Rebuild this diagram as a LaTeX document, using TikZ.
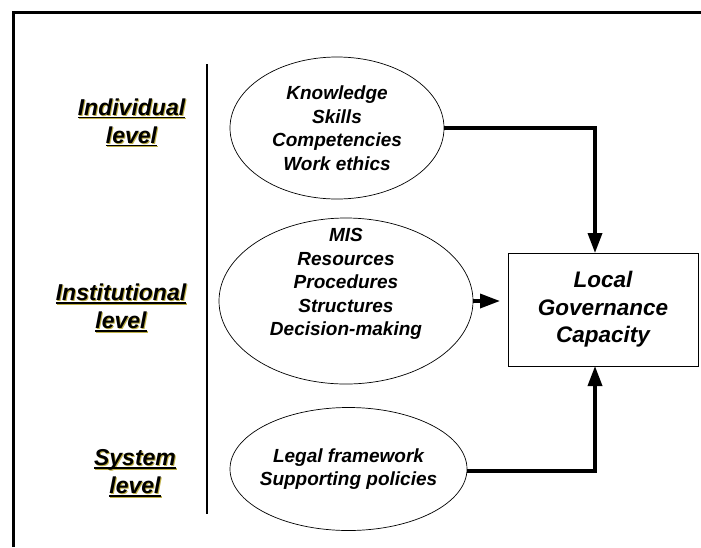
\documentclass[tikz,border=0pt]{standalone}
\usepackage{fontspec}
\setmainfont{Liberation Sans}
\usetikzlibrary{shapes.geometric,arrows.meta}
\definecolor{shadowgold}{RGB}{190,175,70}
% underline at a fixed distance below the baseline, crossing descenders
\newcommand\levelul[1]{\setbox0\hbox{#1}\rlap{\rule[-3.2pt]{\wd0}{1.6pt}}\box0}
\begin{document}
\begin{tikzpicture}[x=1pt,y=-1pt,
  every node/.style={inner sep=0pt,outer sep=0pt},
  factor/.style={draw,ellipse,line width=0.7pt},
  factortext/.style={align=center,font=\fontsize{19}{23.5}\selectfont\bfseries\itshape},
  levelshadow/.style={align=center,text=shadowgold,font=\fontsize{23}{28}\selectfont\bfseries\itshape},
  leveltext/.style={align=center,font=\fontsize{23}{28}\selectfont\bfseries\itshape},
  target/.style={draw,line width=0.7pt,align=center,font=\fontsize{22.5}{27.5}\selectfont\bfseries\itshape},
  flow/.style={line width=3.5pt,-{Triangle[length=20pt,width=14pt]}}]
  \useasboundingbox (0,0) rectangle (701,547);

  % open frame: left and top sides
  \draw[line width=3pt] (13.3,547) -- (13.3,12.5) -- (701,12.5);

  % divider between level names and factors
  \draw[line width=1.2pt] (207,64) -- (207,514);

  % level names with a soft offset shadow
  \node[levelshadow] (indS) at (132.5,123.5) {\levelul{Individual}\\\levelul{level}};
  \node[leveltext] (ind) at (131.5,122.5) {\levelul{Individual}\\\levelul{level}};
  \node[levelshadow] (instS) at (122,309) {\levelul{Institutional}\\\levelul{level}};
  \node[leveltext] (inst) at (121,308) {\levelul{Institutional}\\\levelul{level}};
  \node[levelshadow] (sysS) at (136,474) {\levelul{System}\\\levelul{level}};
  \node[leveltext] (sys) at (135,473) {\levelul{System}\\\levelul{level}};

  % capacity factors
  \node[factor,minimum width=214pt,minimum height=142pt] (fInd) at (337,128) {};
  \node[factortext] (fIndT) at (337,128) {Knowledge\\Skills\\Competencies\\Work ethics};

  \node[factor,minimum width=254pt,minimum height=166pt] (fInst) at (346,301) {};
  \node[factortext] (fInstT) at (346,284) {MIS\\Resources\\Procedures\\Structures\\Decision-making};

  \node[factor,minimum width=237pt,minimum height=123pt] (fSys) at (348.5,469) {};
  \node[factortext] (fSysT) at (348.5,469) {Legal framework\\Supporting policies};

  % outcome
  \node[target,minimum width=190pt,minimum height=113pt] (cap) at (603,309.5) {Local\\Governance\\Capacity};

  % connectors
  \coordinate (turnTop) at (595,128);
  \coordinate (turnBot) at (595,471);
  \draw[flow] (fInd.east) -- (turnTop) -- (turnTop |- cap.north);
  \draw[flow,shorten >=8pt] (fInst.east) -- (fInst.east -| cap.west);
  \draw[flow] (fSys.east |- turnBot) -- (turnBot) -- (turnBot |- cap.south);
\end{tikzpicture}
\end{document}
